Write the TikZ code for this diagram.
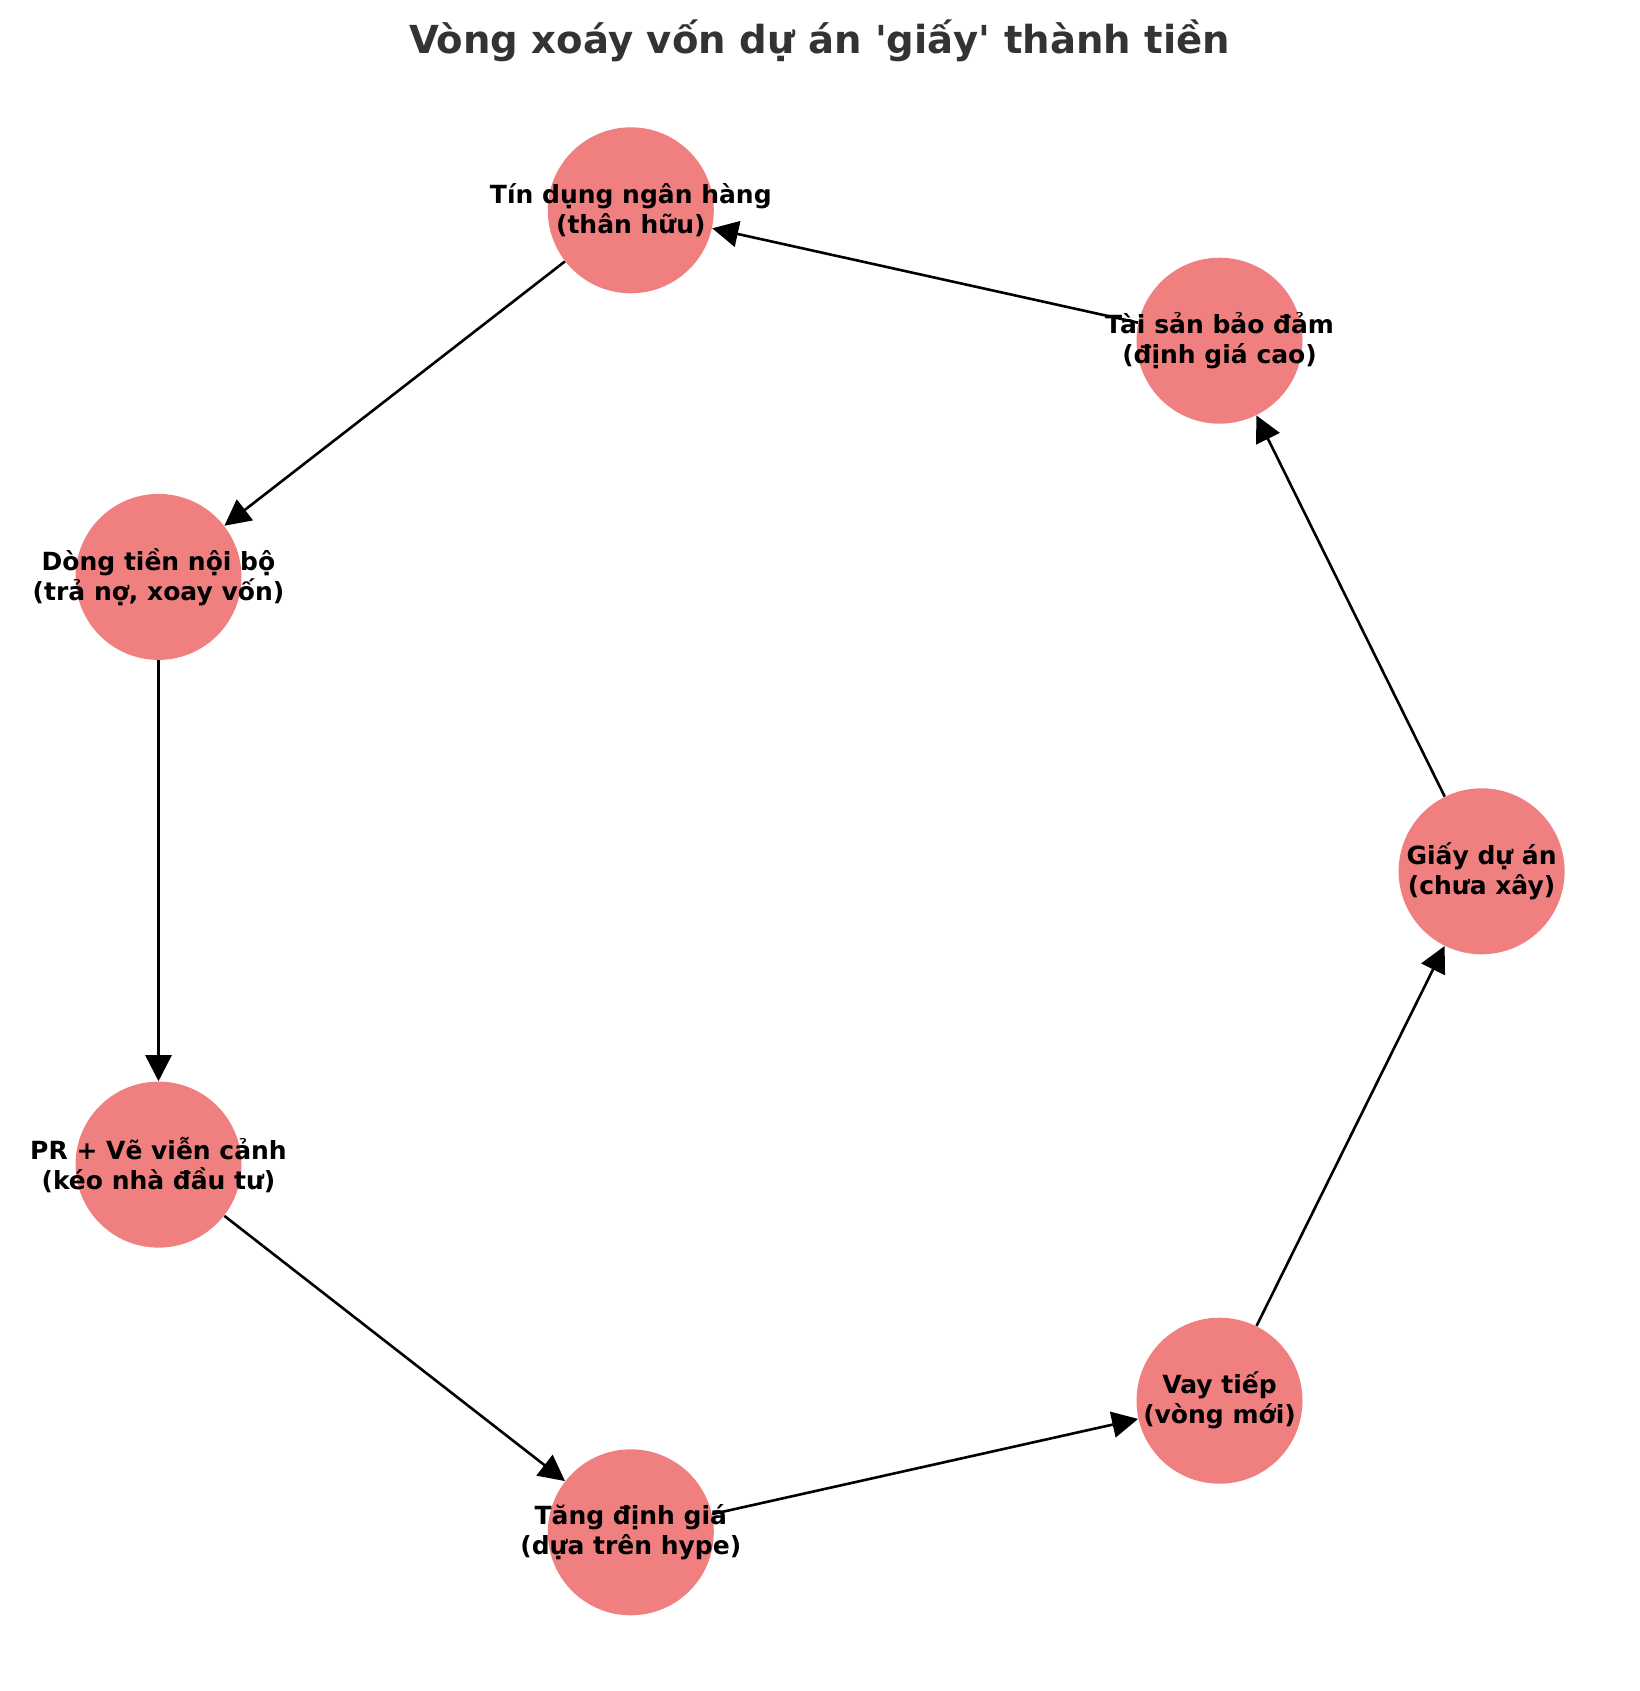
\documentclass[tikz,border=0pt]{standalone}
\usepackage{fontspec}
\setmainfont{DejaVu Sans}
\usetikzlibrary{arrows.meta}
\definecolor{nodecoral}{HTML}{F08080}
\definecolor{titlegray}{HTML}{333333}

\begin{document}
\begin{tikzpicture}[x=0.5pt, y=-0.5pt,
  >={Triangle[length=13pt,width=13pt]},
  disc/.style={circle, fill=nodecoral, minimum size=83pt, inner sep=0pt},
  disctext/.style={align=center, font=\bfseries\fontsize{12.5}{15}\selectfont, inner sep=0pt},
  link/.style={->, line width=1.3pt}]
  \useasboundingbox (0,0) rectangle (1639,1691);
  % ---------------------------------------------------------------- title
  \node[font=\bfseries\fontsize{19.3}{23}\selectfont, text=titlegray] (title) at (819.5,41)
    {Vòng xoáy vốn dự án \textquotesingle giấy\textquotesingle{} thành tiền};
  % ---------------------------------------------------------------- the seven stations
  \node[disc] (giay) at (1481.6,871.3) {};
  \node[disc] (taisan) at (1219.5,340.7) {};
  \node[disc] (tindung) at (630.8,210.3) {};
  \node[disc] (dongtien) at (158.5,576.9) {};
  \node[disc] (pr) at (158.5,1164.6) {};
  \node[disc] (tang) at (630.8,1532.3) {};
  \node[disc] (vay) at (1219.5,1400.7) {};
  % ---------------------------------------------------------------- the loop
  \draw[link] (giay) -- (taisan);
  \draw[link] (taisan) -- (tindung);
  \draw[link] (tindung) -- (dongtien);
  \draw[link] (dongtien) -- (pr);
  \draw[link] (pr) -- (tang);
  \draw[link] (tang) -- (vay);
  \draw[link] (vay) -- (giay);
  % ---------------------------------------------------------------- labels, on top
  \node[disctext] (giay-t) at (giay) {Giấy dự án\\(chưa xây)};
  \node[disctext] (taisan-t) at (taisan) {Tài sản bảo đảm\\(định giá cao)};
  \node[disctext] (tindung-t) at (tindung) {Tín dụng ngân hàng\\(thân hữu)};
  \node[disctext] (dongtien-t) at (dongtien) {Dòng tiền nội bộ\\(trả nợ, xoay vốn)};
  \node[disctext] (pr-t) at (pr) {PR + Vẽ viễn cảnh\\(kéo nhà đầu tư)};
  \node[disctext] (tang-t) at (tang) {Tăng định giá\\(dựa trên hype)};
  \node[disctext] (vay-t) at (vay) {Vay tiếp\\(vòng mới)};
\end{tikzpicture}
\end{document}
